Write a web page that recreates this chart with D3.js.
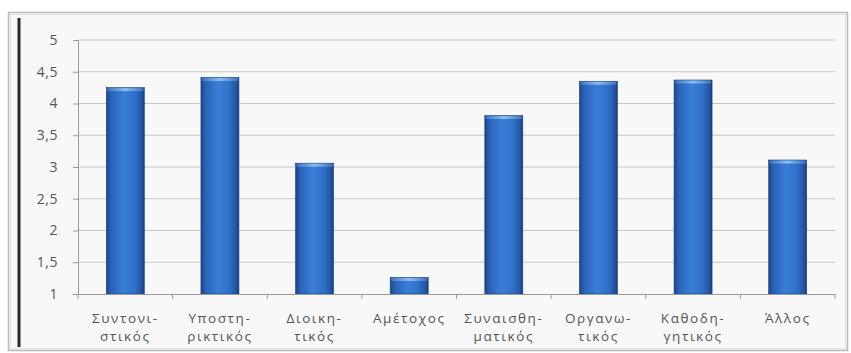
<!DOCTYPE html>
<html><head><meta charset="utf-8">
<script src="https://cdn.jsdelivr.net/npm/d3@7"></script>
<style>body{margin:0;background:#fff;}svg{display:block;}</style>
</head><body>
<script>
const categories = [
  ["Συντονι-","στικός"],
  ["Υποστη-","ρικτικός"],
  ["Διοικη-","τικός"],
  ["Αμέτοχος"],
  ["Συναισθη-","ματικός"],
  ["Οργανω-","τικός"],
  ["Καθοδη-","γητικός"],
  ["Άλλος"]
];
const values = [4.25, 4.41, 3.06, 1.26, 3.81, 4.35, 4.37, 3.11];
const yTicks = [1, 1.5, 2, 2.5, 3, 3.5, 4, 4.5, 5];
const yTickLabels = ["1","1,5","2","2,5","3","3,5","4","4,5","5"];

(function(){
const W = 851, H = 353;
const svg = d3.select("body").append("svg").attr("width", W).attr("height", H);
const defs = svg.append("defs");
const g1 = defs.append("linearGradient").attr("id","barg").attr("x1","0").attr("x2","1").attr("y1","0").attr("y2","0");
[[0,"#1b4486"],[0.12,"#2a62b8"],[0.45,"#3a7ed8"],[0.75,"#3070c8"],[0.92,"#2456a6"],[1,"#183d7a"]].forEach(s=>g1.append("stop").attr("offset",s[0]).attr("stop-color",s[1]));
const g2 = defs.append("linearGradient").attr("id","capg").attr("x1","0").attr("x2","1");
[[0,"#3f74c0"],[0.5,"#8cc0f4"],[1,"#3f74c0"]].forEach(s=>g2.append("stop").attr("offset",s[0]).attr("stop-color",s[1]));

// frame
svg.append("rect").attr("x",8.5).attr("y",12.5).attr("width",839).attr("height",338)
  .attr("fill","#f8f8f8").attr("stroke","#b8b8b8").attr("stroke-width",1.5);
svg.append("rect").attr("x",10.5).attr("y",14.5).attr("width",835).attr("height",334)
  .attr("fill","none").attr("stroke","#e2e2e2").attr("stroke-width",1);
svg.append("line").attr("x1",19).attr("x2",19).attr("y1",18).attr("y2",347)
  .attr("stroke","#2a2a2a").attr("stroke-width",3);

const pLeft = 78, pRight = 835, pTop = 40, pBottom = 294;
const x = d3.scaleBand().domain(d3.range(categories.length)).range([pLeft, pRight]).padding(0);
const y = d3.scaleLinear().domain([1,5]).range([pBottom, pTop]);

// gridlines
svg.append("g").selectAll("line").data(yTicks.filter(t=>t>1)).join("line")
  .attr("x1",pLeft).attr("x2",pRight).attr("y1",d=>y(d)).attr("y2",d=>y(d))
  .attr("stroke","#c6c6c6").attr("stroke-width",1);

// y axis
const yAxis = d3.axisLeft(y).tickValues(yTicks).tickFormat((d,i)=>yTickLabels[i]).tickSize(5).tickPadding(15);
const ya = svg.append("g").attr("transform",`translate(${pLeft},0)`).call(yAxis);
ya.select(".domain").attr("stroke","#9a9a9a");
ya.selectAll(".tick line").attr("stroke","#9a9a9a");
ya.selectAll("text").attr("font-family","'Open Sans', sans-serif").attr("font-size",14)
  .attr("letter-spacing",0.5).attr("fill","#555");

// bars
const bw = 38;
const bars = svg.append("g");
bars.selectAll("rect.bar").data(values).join("rect").attr("class","bar")
  .attr("x",(d,i)=>x(i)+x.bandwidth()/2-bw/2).attr("width",bw)
  .attr("y",d=>y(d)).attr("height",d=>y(1)-y(d))
  .attr("fill","url(#barg)").attr("stroke","#1a3f7e").attr("stroke-width",0.6);
bars.selectAll("rect.cap").data(values).join("rect").attr("class","cap")
  .attr("x",(d,i)=>x(i)+x.bandwidth()/2-bw/2+1).attr("width",bw-2)
  .attr("y",d=>y(d)+0.5).attr("height",3)
  .attr("fill","url(#capg)");

// x axis
const xAxis = d3.axisBottom(x).tickSize(0).tickFormat("");
const xa = svg.append("g").attr("transform",`translate(0,${pBottom})`).call(xAxis);
xa.select(".domain").attr("stroke","#9a9a9a");
svg.append("g").selectAll("line").data(d3.range(categories.length+1)).join("line")
  .attr("x1",i=>i<categories.length?x(i):pRight).attr("x2",i=>i<categories.length?x(i):pRight)
  .attr("y1",pBottom).attr("y2",pBottom+5).attr("stroke","#9a9a9a");

const lab = svg.append("g");
categories.forEach((lines,i)=>{
  const cx = x(i)+x.bandwidth()/2;
  const t = lab.append("text").attr("x",cx).attr("y",323)
    .attr("text-anchor","middle").attr("font-family","'Open Sans', sans-serif")
    .attr("font-size",13.5).attr("letter-spacing",1.6).attr("fill","#555");
  lines.forEach((l,j)=>t.append("tspan").attr("x",cx).attr("dy",j?18:0).text(l));
});
})();
</script>
</body></html>
